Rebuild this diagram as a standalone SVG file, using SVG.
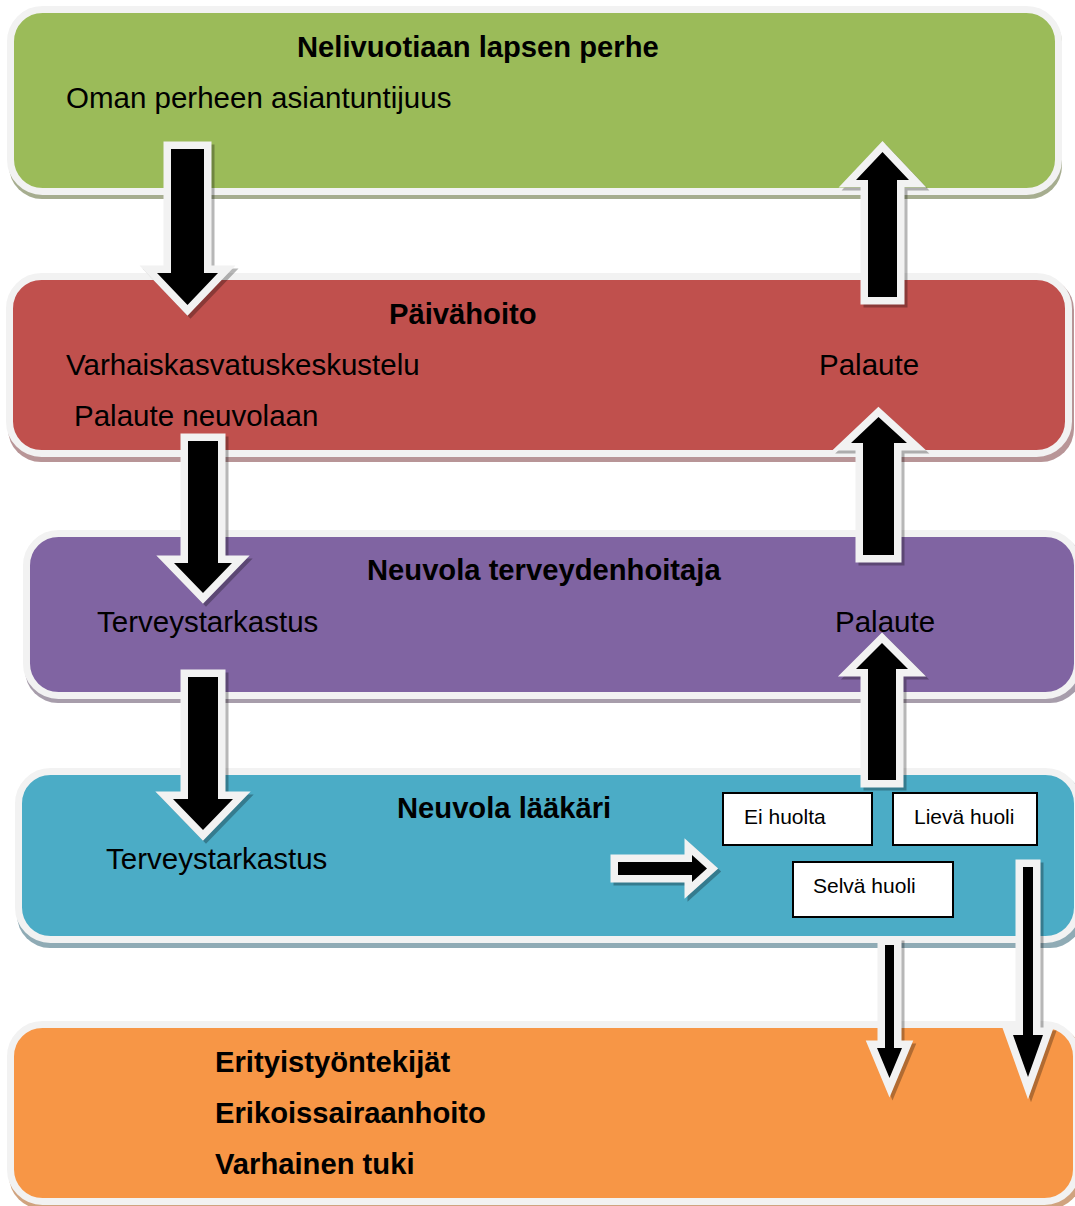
<svg xmlns="http://www.w3.org/2000/svg" width="1075" height="1206" viewBox="0 0 1075 1206">
<style>
.band{stroke:#f2f2f2;stroke-width:7}
.t{font-family:"Liberation Sans",Arial,sans-serif;font-size:29.5px;fill:#000}
.b{font-weight:bold;font-size:29.2px}
.s{font-family:"Liberation Sans",Arial,sans-serif;font-size:21px;fill:#000}
.box{fill:#fff;stroke:#000;stroke-width:2}
.arr{fill:#000;stroke:#f2f2f2;stroke-width:15;stroke-linejoin:miter;stroke-miterlimit:6;paint-order:stroke}
.sh{fill:#000;stroke:#000;stroke-width:15;stroke-linejoin:miter;stroke-miterlimit:6;opacity:0.28}
</style>
<rect width="1075" height="1206" fill="#fff"/>
<g id="perhe">
<rect x="9" y="10" width="1053" height="189" rx="33" fill="#a6ad8f"/>
<rect class="band" x="10.5" y="9.5" width="1048" height="182" rx="32" fill="#9bbb59"/>
<text class="t b" x="297" y="57">Nelivuotiaan lapsen perhe</text>
<text class="t" x="66" y="108">Oman perheen asiantuntijuus</text>
</g>
<g id="paivahoito">
<rect x="8" y="277" width="1066" height="185" rx="33" fill="#b89597"/>
<rect class="band" x="9.5" y="276.5" width="1059" height="177" rx="32" fill="#c0504d"/>
<text class="t b" x="389" y="324">Päivähoito</text>
<text class="t" x="66" y="375">Varhaiskasvatuskeskustelu</text>
<text class="t" x="74" y="426">Palaute neuvolaan</text>
<text class="t" x="819" y="375">Palaute</text>
</g>
<g id="terveydenhoitaja">
<rect x="25" y="534" width="1058" height="169" rx="33" fill="#a79dab"/>
<rect class="band" x="26.5" y="533.5" width="1051" height="162" rx="32" fill="#8064a2"/>
<text class="t b" x="367" y="580">Neuvola terveydenhoitaja</text>
<text class="t" x="97" y="632">Terveystarkastus</text>
<text class="t" x="835" y="632">Palaute</text>
</g>
<g id="laakari">
<rect x="17" y="772" width="1066" height="176" rx="33" fill="#8fabb5"/>
<rect class="band" x="18.5" y="771.5" width="1059" height="168" rx="32" fill="#4bacc6"/>
<text class="t b" x="397" y="818">Neuvola lääkäri</text>
<text class="t" x="106" y="869">Terveystarkastus</text>
</g>
<g id="erityis">
<rect x="9" y="1025" width="1073" height="184" rx="33" fill="#d0a37f"/>
<rect class="band" x="10.5" y="1024.5" width="1066" height="177" rx="32" fill="#f79646"/>
<text class="t b" x="215" y="1072">Erityistyöntekijät</text>
<text class="t b" x="215" y="1123">Erikoissairaanhoito</text>
<text class="t b" x="215" y="1174">Varhainen tuki</text>
</g>
<g id="connectors">
<g transform="translate(3,3)">
<polygon class="sh" points="171,149 204,149 204,273 218,273 187.5,305 157,273 171,273"/>
<polygon class="sh" points="868,297 897,297 897,180 909,180 882.5,152 856,180 868,180"/>
<polygon class="sh" points="188,441 218,441 218,563 232,563 203,593 174,563 188,563"/>
<polygon class="sh" points="863,555 894,555 894,443 907,443 878.5,417 851,443 863,443"/>
<polygon class="sh" points="188,677 218,677 218,799 233,799 203,830 173,799 188,799"/>
<polygon class="sh" points="868,780 896,780 896,669 908,669 882,643 856,669 868,669"/>
<polygon class="sh" points="618,862 692,862 692,855 707,868.5 692,882 692,875 618,875"/>
<polygon class="sh" points="885,945 894,945 894,1048 902,1048 889.5,1078 877,1048 885,1048"/>
<polygon class="sh" points="1023,867 1033,867 1033,1035 1043,1035 1028,1077 1013,1035 1023,1035"/>
</g>
<polygon class="arr" points="171,149 204,149 204,273 218,273 187.5,305 157,273 171,273"/>
<polygon class="arr" points="868,297 897,297 897,180 909,180 882.5,152 856,180 868,180"/>
<polygon class="arr" points="188,441 218,441 218,563 232,563 203,593 174,563 188,563"/>
<polygon class="arr" points="863,555 894,555 894,443 907,443 878.5,417 851,443 863,443"/>
<polygon class="arr" points="188,677 218,677 218,799 233,799 203,830 173,799 188,799"/>
<polygon class="arr" points="868,780 896,780 896,669 908,669 882,643 856,669 868,669"/>
<polygon class="arr" points="618,862 692,862 692,855 707,868.5 692,882 692,875 618,875"/>
<polygon class="arr" points="885,945 894,945 894,1048 902,1048 889.5,1078 877,1048 885,1048"/>
<polygon class="arr" points="1023,867 1033,867 1033,1035 1043,1035 1028,1077 1013,1035 1023,1035"/>
</g>
<g id="ei-huolta">
<rect class="box" x="723" y="793" width="149" height="52"/>
<text class="s" x="744" y="824">Ei huolta</text>
</g>
<g id="lieva-huoli">
<rect class="box" x="893" y="793" width="144" height="52"/>
<text class="s" x="914" y="824">Lievä huoli</text>
</g>
<g id="selva-huoli">
<rect class="box" x="793" y="862" width="160" height="55"/>
<text class="s" x="813" y="893">Selvä huoli</text>
</g>
</svg>
